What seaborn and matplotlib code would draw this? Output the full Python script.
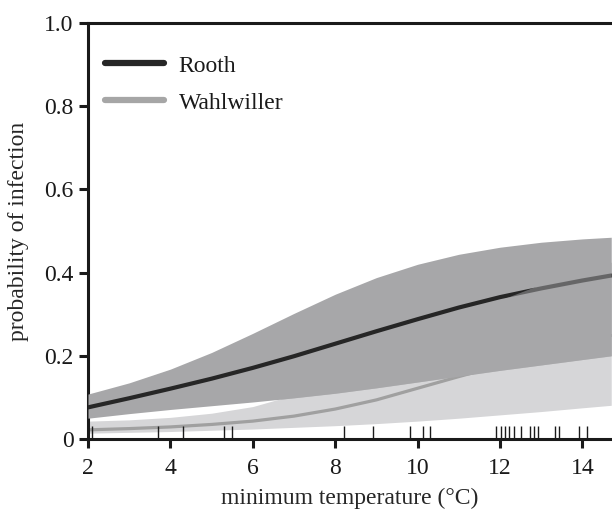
import numpy as np
import pandas as pd
import seaborn as sns
import matplotlib
matplotlib.use("Agg")
import matplotlib.pyplot as plt
from matplotlib.lines import Line2D

# ---- data ----
temp = [2, 3, 4, 5, 6, 7, 8, 9, 10, 11, 12, 13, 14, 14.7]
rooth_mean = [0.076, 0.098, 0.121, 0.145, 0.171, 0.199, 0.229, 0.259, 0.288, 0.316, 0.341, 0.362, 0.381, 0.393]
rooth_upper = [0.108, 0.135, 0.168, 0.208, 0.254, 0.302, 0.348, 0.388, 0.420, 0.444, 0.461, 0.473, 0.481, 0.485]
rooth_lower = [0.050, 0.061, 0.071, 0.080, 0.089, 0.099, 0.110, 0.123, 0.137, 0.151, 0.165, 0.178, 0.191, 0.200]
wahl_mean = [0.022, 0.025, 0.029, 0.035, 0.043, 0.055, 0.072, 0.094, 0.122, 0.150, 0.177, 0.204, 0.231, 0.249]
wahl_upper = [0.043, 0.046, 0.052, 0.062, 0.078, 0.106, 0.148, 0.194, 0.242, 0.289, 0.334, 0.372, 0.405, 0.425]
wahl_lower = [0.014, 0.016, 0.018, 0.021, 0.024, 0.028, 0.032, 0.037, 0.043, 0.050, 0.058, 0.066, 0.075, 0.081]
observed_temps = [2.10, 3.71, 4.31, 5.30, 5.50, 8.22, 8.91, 9.81, 10.12, 10.31,
                  11.91, 12.02, 12.12, 12.23, 12.33, 12.52, 12.72, 12.83, 12.93,
                  13.33, 13.42, 13.92, 14.12]
series_names = ["Rooth", "Wahlwiller"]
x_ticks = [2, 4, 6, 8, 10, 12, 14]
y_ticks = [0, 0.2, 0.4, 0.6, 0.8, 1.0]
y_tick_labels = ["0", "0.2", "0.4", "0.6", "0.8", "1.0"]

sns.set_style("ticks")
plt.rcParams["font.family"] = ["Liberation Serif", "DejaVu Serif"]
plt.rcParams["font.size"] = 17

DARK_BAND = "#a7a7a9"
LIGHT_BAND = "#d6d6d8"
ROOTH_C = "#262626"
WAHL_C = "#a0a0a0"
INK = "#1a1a1a"

fig = plt.figure(figsize=(6.12, 5.14), dpi=100)
ax = fig.add_axes([88 / 612, 75 / 514, (612 - 88) / 612, 416 / 514])

x = np.array(temp)
rl, ru = np.array(rooth_lower), np.array(rooth_upper)
wl, wu = np.array(wahl_lower), np.array(wahl_upper)

df = pd.DataFrame({"temp": temp * 2,
                   "prob": rooth_mean + wahl_mean,
                   "site": [series_names[0]] * len(temp) + [series_names[1]] * len(temp)})

# Wahlwiller band + line (beneath)
ax.fill_between(x, wl, wu, color=LIGHT_BAND, lw=0, zorder=1)
sns.lineplot(data=df[df.site == "Wahlwiller"], x="temp", y="prob", color=WAHL_C,
             lw=2.3, ax=ax, zorder=2, legend=False)
# Rooth band + line
ax.fill_between(x, rl, ru, color=DARK_BAND, lw=0, zorder=3)
sns.lineplot(data=df[df.site == "Rooth"], x="temp", y="prob", color=ROOTH_C,
             lw=3.0, ax=ax, zorder=4, legend=False)
# overlap of the two intervals drawn on top (slightly translucent)
lo, hi = np.maximum(rl, wl), np.minimum(ru, wu)
ax.fill_between(x, lo, hi, where=hi > lo, interpolate=True, color=DARK_BAND,
                alpha=0.5, lw=0, zorder=5)

# rug of observations
sns.rugplot(x=observed_temps, height=0.031, color=INK, lw=2.0, ax=ax,
            clip_on=False, zorder=6)

ax.set_xlim(2, 2 + (612 - 88) / 41.2)
ax.set_ylim(0, 1.0)
ax.set_xticks(x_ticks)
ax.set_yticks(y_ticks)
ax.set_yticklabels(y_tick_labels)
ax.set_xlabel("minimum temperature (°C)", fontsize=17, labelpad=6)
ax.set_ylabel("probability of infection", fontsize=17, labelpad=11)

for s in ["left", "bottom", "top"]:
    ax.spines[s].set_linewidth(2.2)
    ax.spines[s].set_color(INK)
ax.spines["right"].set_visible(False)
ax.tick_params(axis="both", which="major", direction="out", length=6.5, width=2.2,
               color=INK, labelsize=17, labelcolor=INK)
ax.tick_params(axis="x", pad=7.5)
ax.tick_params(axis="y", pad=4)
ax.tick_params(top=False, right=False)

handles = [Line2D([0], [0], color=ROOTH_C, lw=4.5, solid_capstyle="round"),
           Line2D([0], [0], color="#a6a6a6", lw=4.5, solid_capstyle="round")]
ax.legend(handles, series_names, loc="upper left", frameon=False, fontsize=17,
          handlelength=2.5, handletextpad=0.6, labelspacing=0.66,
          borderpad=0, borderaxespad=0, labelcolor=INK,
          bbox_to_anchor=(0.033, 0.923))

fig.savefig("out.png", dpi=100)
